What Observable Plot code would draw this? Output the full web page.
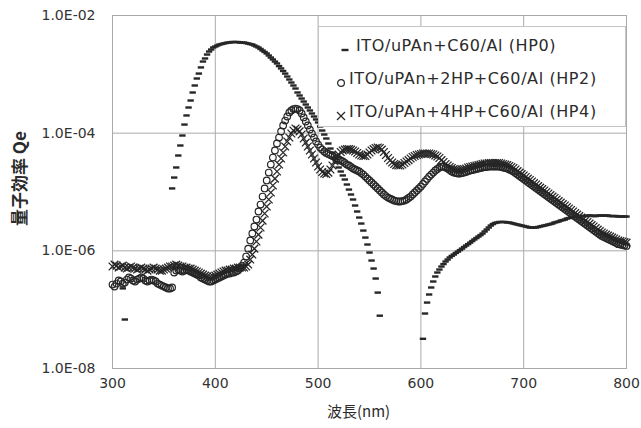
<!DOCTYPE html>
<html><head><meta charset="utf-8">
<script src="https://cdn.jsdelivr.net/npm/d3@7"></script>
<script src="https://cdn.jsdelivr.net/npm/@observablehq/plot@0.6"></script>
<style>
body{margin:0;background:#fff;}
#chart{position:relative;width:641px;height:428px;}
#legend{position:absolute;left:318px;top:26px;width:308px;height:101px;background:#fff;border:1px solid #c4c4c4;box-sizing:border-box;font-family:"DejaVu Sans",sans-serif;}
.row{position:absolute;font-size:16px;color:#2b2b2b;white-space:nowrap;line-height:18px;letter-spacing:0.6px;}
.sym{position:absolute;}
</style></head><body><div id="chart"></div>
<script>
const seriesNames = ["ITO/uPAn+C60/Al (HP0)", "ITO/uPAn+2HP+C60/Al (HP2)", "ITO/uPAn+4HP+C60/Al (HP4)"];
const xTicks = [300, 400, 500, 600, 700, 800];
const yTicks = [1e-8, 1e-6, 1e-4, 1e-2];
const yTickLabels = ["1.0E-08", "1.0E-06", "1.0E-04", "1.0E-02"];
const xLabel = "波長(nm)";
const yLabel = "量子効率 Qe";

const wavelength = [
300,302,304,306,308,310,312,314,316,318,
320,322,324,326,328,330,332,334,336,338,
340,342,344,346,348,350,352,354,356,358,
360,362,364,366,368,370,372,374,376,378,
380,382,384,386,388,390,392,394,396,398,
400,402,404,406,408,410,412,414,416,418,
420,422,424,426,428,430,432,434,436,438,
440,442,444,446,448,450,452,454,456,458,
460,462,464,466,468,470,472,474,476,478,
480,482,484,486,488,490,492,494,496,498,
500,502,504,506,508,510,512,514,516,518,
520,522,524,526,528,530,532,534,536,538,
540,542,544,546,548,550,552,554,556,558,
560,562,564,566,568,570,572,574,576,578,
580,582,584,586,588,590,592,594,596,598,
600,602,604,606,608,610,612,614,616,618,
620,622,624,626,628,630,632,634,636,638,
640,642,644,646,648,650,652,654,656,658,
660,662,664,666,668,670,672,674,676,678,
680,682,684,686,688,690,692,694,696,698,
700,702,704,706,708,710,712,714,716,718,
720,722,724,726,728,730,732,734,736,738,
740,742,744,746,748,750,752,754,756,758,
760,762,764,766,768,770,772,774,776,778,
780,782,784,786,788,790,792,794,796,798,
800];

const hp0 = [
null,null,null,null,null,2.3e-7,6.8e-8,null,null,null,
null,null,null,null,null,null,null,null,null,null,
null,null,null,null,null,null,null,null,null,1.15e-5,
1.76e-5,2.61e-5,4.17e-5,6.17e-5,9.12e-5,1.40e-4,2.0e-4,2.73e-4,3.59e-4,4.91e-4,
6.46e-4,8.49e-4,1.03e-3,1.31e-3,1.65e-3,1.86e-3,2.17e-3,2.44e-3,2.64e-3,2.86e-3,
2.97e-3,3.09e-3,3.21e-3,3.27e-3,3.34e-3,3.40e-3,3.47e-3,3.47e-3,3.54e-3,3.54e-3,
3.54e-3,3.54e-3,3.47e-3,3.47e-3,3.47e-3,3.40e-3,3.34e-3,3.27e-3,3.21e-3,3.09e-3,
2.97e-3,2.86e-3,2.70e-3,2.54e-3,2.40e-3,2.26e-3,2.09e-3,1.93e-3,1.79e-3,1.65e-3,
1.53e-3,1.38e-3,1.26e-3,1.14e-3,1.03e-3,9.18e-4,8.17e-4,7.26e-4,6.46e-4,5.74e-4,
4.91e-4,4.37e-4,3.88e-4,3.45e-4,3.07e-4,2.73e-4,2.43e-4,2.16e-4,1.92e-4,1.71e-4,
1.52e-4,1.30e-4,1.11e-4,9.48e-5,8.11e-5,6.67e-5,5.48e-5,4.69e-5,3.85e-5,3.17e-5,
2.61e-5,2.23e-5,1.91e-5,1.63e-5,1.34e-5,1.10e-5,9.06e-6,7.45e-6,5.89e-6,4.66e-6,
3.68e-6,2.91e-6,2.21e-6,1.68e-6,1.28e-6,9.35e-7,6.84e-7,5.0e-7,3.38e-7,1.95e-7,
7.9e-8,null,null,null,null,null,null,null,null,null,
null,null,null,null,null,null,null,null,null,null,
null,3.2e-8,8.6e-8,1.32e-7,1.81e-7,2.38e-7,3.01e-7,3.66e-7,4.28e-7,4.81e-7,
5.41e-7,5.96e-7,6.58e-7,7.11e-7,7.7e-7,8.2e-7,8.65e-7,9.2e-7,9.7e-7,1.03e-6,
1.09e-6,1.16e-6,1.23e-6,1.30e-6,1.38e-6,1.47e-6,1.56e-6,1.65e-6,1.75e-6,1.85e-6,
1.97e-6,2.13e-6,2.30e-6,2.49e-6,2.69e-6,2.85e-6,2.97e-6,3.03e-6,3.09e-6,3.09e-6,
3.09e-6,3.09e-6,3.03e-6,3.03e-6,2.97e-6,2.91e-6,2.85e-6,2.80e-6,2.74e-6,2.69e-6,
2.64e-6,2.59e-6,2.54e-6,2.49e-6,2.49e-6,2.49e-6,2.49e-6,2.54e-6,2.59e-6,2.64e-6,
2.69e-6,2.74e-6,2.80e-6,2.85e-6,2.91e-6,3.03e-6,3.09e-6,3.15e-6,3.27e-6,3.33e-6,
3.40e-6,3.54e-6,3.61e-6,3.68e-6,3.75e-6,3.83e-6,3.83e-6,3.90e-6,3.90e-6,3.90e-6,
3.90e-6,3.98e-6,3.98e-6,3.98e-6,3.90e-6,3.90e-6,3.98e-6,3.98e-6,3.98e-6,3.98e-6,
3.98e-6,3.98e-6,3.90e-6,3.90e-6,3.90e-6,3.90e-6,3.83e-6,3.83e-6,3.83e-6,3.83e-6,
3.83e-6];

const hp2 = [
2.67e-7,2.47e-7,2.78e-7,3.13e-7,3.01e-7,2.78e-7,2.89e-7,3.25e-7,3.52e-7,3.38e-7,
3.13e-7,3.01e-7,3.25e-7,3.38e-7,3.52e-7,3.38e-7,3.13e-7,3.01e-7,3.13e-7,3.25e-7,
3.13e-7,3.01e-7,2.78e-7,2.67e-7,2.57e-7,2.47e-7,2.38e-7,2.29e-7,2.29e-7,2.38e-7,
4.28e-7,4.62e-7,4.81e-7,4.62e-7,4.45e-7,4.62e-7,4.81e-7,4.62e-7,4.45e-7,4.28e-7,
4.11e-7,3.95e-7,3.80e-7,3.52e-7,3.38e-7,3.25e-7,3.13e-7,3.01e-7,3.01e-7,3.13e-7,
3.25e-7,3.38e-7,3.52e-7,3.66e-7,3.80e-7,3.95e-7,4.11e-7,4.11e-7,4.28e-7,4.28e-7,
4.45e-7,4.62e-7,5.0e-7,5.62e-7,6.32e-7,8.0e-7,1.09e-6,1.50e-6,1.97e-6,2.59e-6,
3.40e-6,4.66e-6,6.12e-6,8.37e-6,1.15e-5,1.57e-5,2.14e-5,2.93e-5,3.85e-5,5.07e-5,
6.67e-5,8.43e-5,1.07e-4,1.35e-4,1.64e-4,1.92e-4,2.25e-4,2.43e-4,2.57e-4,2.62e-4,
2.57e-4,2.43e-4,2.16e-4,1.85e-4,1.58e-4,1.35e-4,1.15e-4,9.86e-5,8.43e-5,7.21e-5,
6.41e-5,5.70e-5,5.27e-5,4.88e-5,4.60e-5,4.43e-5,4.25e-5,4.09e-5,3.93e-5,3.71e-5,
3.56e-5,3.43e-5,3.30e-5,3.11e-5,2.93e-5,2.82e-5,2.66e-5,2.51e-5,2.41e-5,2.32e-5,
2.23e-5,2.10e-5,1.98e-5,1.83e-5,1.69e-5,1.57e-5,1.45e-5,1.34e-5,1.24e-5,1.15e-5,
1.06e-5,9.80e-6,9.06e-6,8.54e-6,8.05e-6,7.74e-6,7.45e-6,7.16e-6,7.02e-6,6.89e-6,
6.89e-6,7.02e-6,7.16e-6,7.45e-6,7.90e-6,8.37e-6,9.06e-6,9.80e-6,1.06e-5,1.15e-5,
1.24e-5,1.37e-5,1.51e-5,1.66e-5,1.83e-5,1.98e-5,2.14e-5,2.32e-5,2.46e-5,2.61e-5,
2.71e-5,2.71e-5,2.61e-5,2.51e-5,2.36e-5,2.23e-5,2.14e-5,2.10e-5,2.06e-5,2.06e-5,
2.10e-5,2.14e-5,2.19e-5,2.28e-5,2.32e-5,2.36e-5,2.41e-5,2.46e-5,2.51e-5,2.56e-5,
2.61e-5,2.66e-5,2.66e-5,2.71e-5,2.71e-5,2.71e-5,2.71e-5,2.71e-5,2.71e-5,2.66e-5,
2.61e-5,2.56e-5,2.51e-5,2.41e-5,2.32e-5,2.23e-5,2.10e-5,1.98e-5,1.87e-5,1.76e-5,
1.66e-5,1.57e-5,1.48e-5,1.39e-5,1.31e-5,1.24e-5,1.17e-5,1.10e-5,1.04e-5,9.80e-6,
9.24e-6,8.71e-6,8.21e-6,7.74e-6,7.30e-6,6.89e-6,6.49e-6,6.12e-6,5.77e-6,5.44e-6,
5.14e-6,4.84e-6,4.57e-6,4.31e-6,4.06e-6,3.83e-6,3.61e-6,3.40e-6,3.21e-6,3.03e-6,
2.85e-6,2.69e-6,2.54e-6,2.39e-6,2.26e-6,2.13e-6,2.01e-6,1.89e-6,1.79e-6,1.72e-6,
1.65e-6,1.59e-6,1.53e-6,1.47e-6,1.41e-6,1.36e-6,1.30e-6,1.28e-6,1.26e-6,1.23e-6,
1.21e-6];

const hp4 = [
5.41e-7,5.85e-7,5.62e-7,5.20e-7,5.41e-7,5.62e-7,5.20e-7,5.0e-7,5.20e-7,5.41e-7,
5.20e-7,5.0e-7,4.81e-7,5.0e-7,5.20e-7,5.0e-7,4.81e-7,4.62e-7,4.81e-7,5.0e-7,
5.20e-7,5.0e-7,4.81e-7,4.62e-7,4.62e-7,4.81e-7,5.0e-7,5.20e-7,5.41e-7,5.41e-7,
5.62e-7,5.85e-7,5.62e-7,5.41e-7,5.41e-7,5.20e-7,5.20e-7,5.0e-7,5.0e-7,4.81e-7,
4.62e-7,4.45e-7,4.28e-7,4.11e-7,3.95e-7,3.80e-7,3.66e-7,3.52e-7,3.52e-7,3.66e-7,
3.80e-7,3.95e-7,4.11e-7,4.28e-7,4.45e-7,4.62e-7,4.62e-7,4.81e-7,4.81e-7,5.0e-7,
5.0e-7,5.20e-7,5.20e-7,5.20e-7,5.20e-7,5.41e-7,5.85e-7,7.11e-7,8.65e-7,1.09e-6,
1.44e-6,1.89e-6,2.49e-6,3.27e-6,4.31e-6,5.66e-6,7.45e-6,9.80e-6,1.29e-5,1.69e-5,
2.23e-5,2.93e-5,3.71e-5,4.69e-5,5.93e-5,7.21e-5,8.43e-5,9.86e-5,1.11e-4,1.20e-4,
1.15e-4,1.07e-4,9.48e-5,8.11e-5,6.93e-5,5.93e-5,5.07e-5,4.34e-5,3.71e-5,3.17e-5,
2.71e-5,2.41e-5,2.19e-5,2.06e-5,2.02e-5,2.14e-5,2.41e-5,2.82e-5,3.30e-5,3.85e-5,
4.34e-5,4.78e-5,5.07e-5,5.27e-5,5.37e-5,5.37e-5,5.27e-5,5.07e-5,4.88e-5,4.60e-5,
4.34e-5,4.17e-5,4.09e-5,4.09e-5,4.34e-5,4.69e-5,5.07e-5,5.37e-5,5.59e-5,5.70e-5,
5.59e-5,5.27e-5,4.78e-5,4.25e-5,3.78e-5,3.43e-5,3.17e-5,2.99e-5,2.87e-5,2.82e-5,
2.82e-5,2.93e-5,3.11e-5,3.30e-5,3.49e-5,3.71e-5,3.93e-5,4.09e-5,4.25e-5,4.34e-5,
4.43e-5,4.51e-5,4.51e-5,4.51e-5,4.51e-5,4.43e-5,4.34e-5,4.17e-5,4.01e-5,3.78e-5,
3.49e-5,3.24e-5,2.99e-5,2.82e-5,2.66e-5,2.56e-5,2.46e-5,2.41e-5,2.36e-5,2.36e-5,
2.41e-5,2.46e-5,2.51e-5,2.61e-5,2.66e-5,2.71e-5,2.77e-5,2.82e-5,2.87e-5,2.93e-5,
2.99e-5,3.05e-5,3.05e-5,3.11e-5,3.11e-5,3.11e-5,3.11e-5,3.11e-5,3.11e-5,3.05e-5,
2.99e-5,2.93e-5,2.87e-5,2.77e-5,2.66e-5,2.56e-5,2.41e-5,2.27e-5,2.14e-5,2.02e-5,
1.91e-5,1.80e-5,1.69e-5,1.60e-5,1.51e-5,1.42e-5,1.34e-5,1.26e-5,1.19e-5,1.12e-5,
1.06e-5,1.00e-5,9.42e-6,8.88e-6,8.37e-6,7.90e-6,7.45e-6,7.02e-6,6.62e-6,6.24e-6,
5.89e-6,5.55e-6,5.24e-6,4.94e-6,4.66e-6,4.39e-6,4.14e-6,3.90e-6,3.68e-6,3.47e-6,
3.27e-6,3.09e-6,2.91e-6,2.74e-6,2.59e-6,2.44e-6,2.30e-6,2.17e-6,2.05e-6,1.97e-6,
1.89e-6,1.82e-6,1.75e-6,1.68e-6,1.62e-6,1.56e-6,1.50e-6,1.47e-6,1.44e-6,1.41e-6,
1.38e-6];

const toRows = (vals) => wavelength.map((w, i) => ({wl: w, qe: vals[i]})).filter(d => d.qe != null);
const rows0 = toRows(hp0), rows2 = toRows(hp2), rows4 = toRows(hp4);

// horizontal dash symbol
const dashSymbol = {
  draw(context, size) {
    const w = Math.sqrt(size) / 2;
    context.moveTo(-w, 0);
    context.lineTo(w, 0);
  }
};

const ink = "#262626";
const chart = Plot.plot({
  width: 641, height: 428,
  marginLeft: 112, marginRight: 15, marginTop: 15, marginBottom: 60,
  style: {fontFamily: "'DejaVu Sans', sans-serif", fontSize: "14px", color: "#333", background: "#fff"},
  x: {domain: [300, 800]},
  y: {type: "log", domain: [1e-8, 1e-2]},
  marks: [
    Plot.gridX(xTicks, {stroke: "#aaa", strokeOpacity: 1}),
    Plot.gridY(yTicks, {stroke: "#aaa", strokeOpacity: 1}),
    Plot.frame({stroke: "#aaa"}),
    Plot.axisX(xTicks, {tickSize: 0, tickPadding: 10, label: null, fontSize: 14}),
    Plot.axisY(yTicks, {tickSize: 0, tickPadding: 17, label: null, fontSize: 14,
      tickFormat: d => yTickLabels[yTicks.indexOf(d)]}),
    Plot.dot(rows2, {x: "wl", y: "qe", symbol: "circle", r: 3.3, stroke: ink, strokeWidth: 1.2, fill: "none"}),
    Plot.dot(rows4, {x: "wl", y: "qe", symbol: "times", r: 3.6, stroke: ink, strokeWidth: 1.3, fill: "none"}),
    Plot.dot(rows0, {x: "wl", y: "qe", symbol: dashSymbol, r: 3.6, stroke: ink, strokeWidth: 2.4, fill: "none"}),
    Plot.text([xLabel], {frameAnchor: "bottom", dy: 48, dx: -11, fontSize: 15, fill: "#2b2b2b",
      fontFamily: "'Noto Sans CJK JP', sans-serif"}),
    Plot.text([yLabel], {frameAnchor: "left", dx: -92, dy: 34, rotate: -90, fontSize: 17, fill: "#2b2b2b",
      fontWeight: "bold", fontFamily: "'Noto Sans CJK JP', sans-serif"})
  ]
});
const host = document.getElementById("chart");
host.appendChild(chart);

// legend drawn with the same marker shapes
const legend = document.createElement("div");
legend.id = "legend";
const rowTops = [10, 43, 76];
const symLeft = [20, 16, 16];
const textLeft = [37, 30, 30];
const symbolSvgs = [
  `<svg width="12" height="12"><line x1="2.5" y1="6" x2="9.5" y2="6" stroke="${ink}" stroke-width="2.4"/></svg>`,
  `<svg width="12" height="12"><circle cx="6" cy="6" r="3.4" fill="none" stroke="${ink}" stroke-width="1.2"/></svg>`,
  `<svg width="12" height="12"><path d="M2,2L10,10M10,2L2,10" stroke="${ink}" stroke-width="1.2"/></svg>`
];
seriesNames.forEach((name, i) => {
  const s = document.createElement("span");
  s.className = "sym";
  s.style.top = (rowTops[i] + 4) + "px";
  s.style.left = symLeft[i] + "px";
  s.innerHTML = symbolSvgs[i];
  legend.appendChild(s);
  const t = document.createElement("span");
  t.className = "row";
  t.style.top = rowTops[i] + "px";
  t.style.left = textLeft[i] + "px";
  t.textContent = name;
  legend.appendChild(t);
});
host.appendChild(legend);
</script>
</body></html>
